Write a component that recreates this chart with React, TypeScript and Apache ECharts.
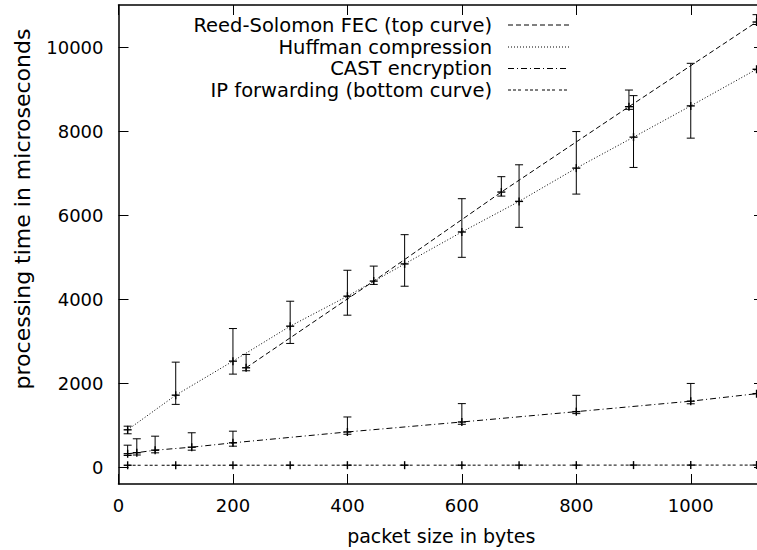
import React, { useEffect, useRef } from "react";
import * as echarts from "echarts";

// ---- data ----
const rsX = [223, 446, 669, 892, 1115];
const rsY = [2366, 4429, 6548, 8580, 10595];
const rsLow = [2295, 4350, 6452, 8517, 10536];
const rsHigh = [2683, 4786, 6914, 8976, 10770];

const hufX = [16, 100, 200, 300, 400, 500, 600, 700, 800, 900, 1000, 1115];
const hufY = [890, 1714, 2524, 3356, 4070, 4838, 5598, 6326, 7118, 7855, 8599, 9470];
const hufLow = [795, 1495, 2215, 2945, 3618, 4307, 4995, 5708, 6500, 7134, 7831, 9470];
const hufHigh = [976, 2500, 3300, 3950, 4687, 5534, 6390, 7197, 7988, 8843, 9612, 9470];

const castX = [16, 32, 64, 128, 200, 400, 600, 800, 1000, 1115];
const castY = [320, 345, 405, 476, 580, 839, 1076, 1322, 1571, 1750];
const castLow = [278, 290, 342, 405, 500, 784, 1021, 1275, 1509, 1750];
const castHigh = [524, 676, 738, 819, 857, 1195, 1513, 1710, 1993, 1750];

const ipX = [16, 100, 200, 300, 400, 500, 600, 700, 800, 900, 1000, 1115];
const ipY = [46, 46, 47, 47, 48, 48, 48, 49, 49, 50, 50, 50];
const ipLow = [30, 30, 32, 32, 33, 33, 33, 34, 34, 35, 35, 35];
const ipHigh = [62, 62, 62, 62, 63, 63, 63, 64, 64, 65, 65, 65];

const seriesNames = [
  "Reed-Solomon FEC (top curve)",
  "Huffman compression",
  "CAST encryption",
  "IP forwarding (bottom curve)",
];

const xTicks = [0, 200, 400, 600, 800, 1000];
const yTicks = [0, 2000, 4000, 6000, 8000, 10000];

const X_MIN = 0;
const X_MAX = 1128;
const Y_MIN = -400;
const Y_MAX = 11000;

// The reference is cropped at its right edge: the chart is drawn wider and clipped.
const VIEW_W = 757;
const CHART_W = 770;
const CHART_H = 550;

const FONT = "DejaVu Sans";
const dashes: number[][] = [
  [5, 3],
  [1, 2],
  [6, 3, 1, 3],
  [3, 2, 3, 2, 3, 4],
];

function pairs(xs: number[], ys: number[]) {
  return xs.map((x, i) => [x, ys[i]]);
}
function quads(xs: number[], ys: number[], lo: number[], hi: number[]) {
  return xs.map((x, i) => [x, ys[i], lo[i], hi[i]]);
}

const renderErr = (params: any, api: any) => {
  const x = api.value(0);
  const y = api.value(1);
  const lo = api.value(2);
  const hi = api.value(3);
  const p = api.coord([x, y]);
  const pl = api.coord([x, lo]);
  const ph = api.coord([x, hi]);
  const h = 4;
  const st = { stroke: "#000", lineWidth: 1, fill: null };
  const children: any[] = [];
  if (Math.abs(pl[1] - ph[1]) > 1.5) {
    children.push({ type: "line", shape: { x1: pl[0], y1: pl[1], x2: ph[0], y2: ph[1] }, style: st });
    children.push({ type: "line", shape: { x1: pl[0] - h, y1: pl[1], x2: pl[0] + h, y2: pl[1] }, style: st });
    children.push({ type: "line", shape: { x1: ph[0] - h, y1: ph[1], x2: ph[0] + h, y2: ph[1] }, style: st });
  }
  const ps = { stroke: "#000", lineWidth: 1.4, fill: null };
  children.push({ type: "line", shape: { x1: p[0] - h, y1: p[1], x2: p[0] + h, y2: p[1] }, style: ps });
  children.push({ type: "line", shape: { x1: p[0], y1: p[1] - h, x2: p[0], y2: p[1] + h }, style: ps });
  return { type: "group", children };
};

const allSets = [
  { x: rsX, y: rsY, lo: rsLow, hi: rsHigh },
  { x: hufX, y: hufY, lo: hufLow, hi: hufHigh },
  { x: castX, y: castY, lo: castLow, hi: castHigh },
  { x: ipX, y: ipY, lo: ipLow, hi: ipHigh },
];

const legendRows = [25, 47, 68.5, 90];

function buildOption() {
  const series: any[] = [];
  allSets.forEach((s, i) => {
    series.push({
      name: seriesNames[i],
      type: "line",
      data: pairs(s.x, s.y),
      symbol: "none",
      silent: true,
      clip: true,
      lineStyle: { color: "#000", width: 1, type: dashes[i] },
      z: 2,
    });
    series.push({
      name: seriesNames[i] + " errors",
      type: "custom",
      data: quads(s.x, s.y, s.lo, s.hi),
      renderItem: renderErr,
      encode: { x: 0, y: 1 },
      clip: true,
      silent: true,
      z: 3,
    });
  });

  const graphic: any[] = [];
  seriesNames.forEach((n, i) => {
    graphic.push({
      type: "text",
      x: 492,
      y: legendRows[i],
      style: {
        text: n,
        fontFamily: FONT,
        fontSize: 19.5,
        fill: "#000",
        align: "right",
        verticalAlign: "middle",
      },
    });
    graphic.push({
      type: "line",
      shape: { x1: 508, y1: legendRows[i], x2: 569, y2: legendRows[i] },
      style: { stroke: "#000", lineWidth: 1, lineDash: dashes[i] },
    });
  });
  graphic.push({
    type: "text",
    x: 22,
    y: 209,
    rotation: Math.PI / 2,
    style: {
      text: "processing time in microseconds",
      fontFamily: FONT,
      fontSize: 22,
      fill: "#000",
      align: "center",
      verticalAlign: "middle",
    },
  });

  const axisLine = { show: true, onZero: false, lineStyle: { color: "#000", width: 1.5 } };
  const tickStyle = { color: "#000", width: 1 };
  const plain = (v: number) => String(v);

  return {
    animation: false,
    backgroundColor: "#fff",
    grid: { left: 118.5, right: CHART_W - 764, top: 5, bottom: 65.5, containLabel: false },
    xAxis: [
      {
        type: "value",
        position: "bottom",
        min: X_MIN,
        max: X_MAX,
        axisLine,
        axisTick: { show: true, inside: true, length: 10, customValues: xTicks, lineStyle: tickStyle },
        axisLabel: { customValues: xTicks, formatter: plain, margin: 12, color: "#000", fontFamily: FONT, fontSize: 18 },
        splitLine: { show: false },
        name: "packet size in bytes",
        nameLocation: "middle",
        nameGap: 42,
        nameTextStyle: { color: "#000", fontFamily: FONT, fontSize: 19 },
      },
      {
        type: "value",
        position: "top",
        min: X_MIN,
        max: X_MAX,
        axisLine,
        axisTick: { show: true, inside: true, length: 10, customValues: xTicks, lineStyle: tickStyle },
        axisLabel: { show: false },
        splitLine: { show: false },
      },
    ],
    yAxis: [
      {
        type: "value",
        position: "left",
        min: Y_MIN,
        max: Y_MAX,
        axisLine,
        axisTick: { show: true, inside: true, length: 10, customValues: yTicks, lineStyle: tickStyle },
        axisLabel: { customValues: yTicks, formatter: plain, margin: 15, color: "#000", fontFamily: FONT, fontSize: 18 },
        splitLine: { show: false },
      },
      {
        type: "value",
        position: "right",
        min: Y_MIN,
        max: Y_MAX,
        axisLine,
        axisTick: { show: true, inside: true, length: 10, customValues: yTicks, lineStyle: tickStyle },
        axisLabel: { show: false },
        splitLine: { show: false },
      },
    ],
    series,
    graphic,
  };
}

export default function App() {
  const ref = useRef<HTMLDivElement>(null);
  useEffect(() => {
    if (!ref.current) return;
    const chart = echarts.init(ref.current, null, { renderer: "svg", width: CHART_W, height: CHART_H });
    chart.setOption(buildOption() as any);
    return () => chart.dispose();
  }, []);
  return (
    <div
      style={{ position: "fixed", left: 0, top: 0, width: VIEW_W, height: CHART_H, overflow: "hidden", background: "#fff" }}
    >
      <div ref={ref} style={{ width: CHART_W, height: CHART_H }} />
    </div>
  );
}
